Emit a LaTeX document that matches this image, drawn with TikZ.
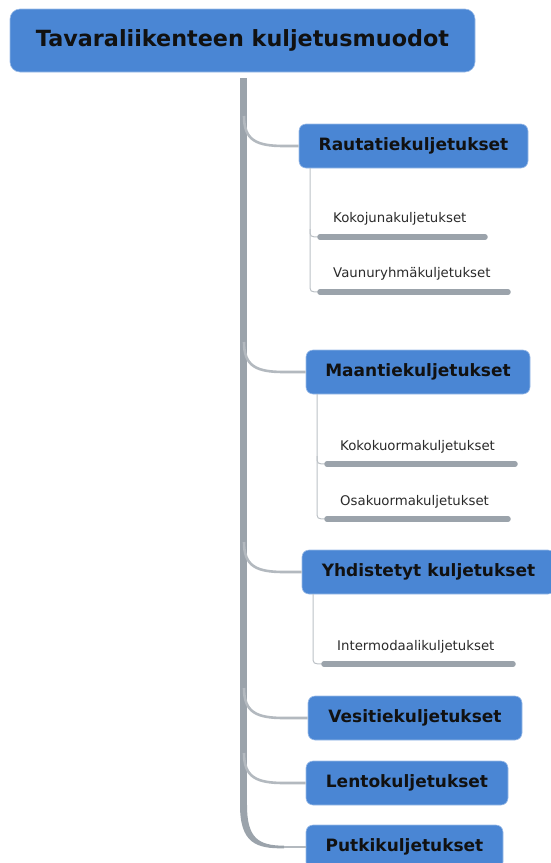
\documentclass[tikz,border=0pt]{standalone}
\usepackage{fontspec}
\setmainfont{DejaVu Sans}
\usetikzlibrary{calc}
\definecolor{boxblue}{HTML}{4A86D4}
\definecolor{trunkgray}{HTML}{9BA3AB}
\definecolor{branchgray}{HTML}{B3B9BF}
\definecolor{linegray}{HTML}{BCC1C6}
\definecolor{txtdark}{HTML}{111111}
\definecolor{leaftxt}{HTML}{2A2A2A}
\begin{document}
\begin{tikzpicture}[x=1pt,y=-1pt,
  box/.style={fill=boxblue, draw=boxblue!55!white, line width=0.6pt, rounded corners=7pt,
    inner sep=0pt, text=txtdark, font=\bfseries\fontsize{17}{20}\selectfont, minimum height=44pt},
  rootbox/.style={box, rounded corners=10pt, font=\bfseries\fontsize{22.3}{26}\selectfont, minimum height=63pt, minimum width=465pt},
  leaf/.style={anchor=west, inner sep=0pt, text=leaftxt, font=\fontsize{13.3}{16}\selectfont},
  trunk/.style={draw=trunkgray, line width=7pt},
  trunkfill/.style={fill=trunkgray, draw=none},
  branch/.style={draw=branchgray, line width=2.6pt},
  subline/.style={draw=linegray, line width=1pt},
  uline/.style={draw=trunkgray, line width=5.5pt, line cap=round}]
\useasboundingbox (0,0) rectangle (550,863);

% nodes
\node[rootbox] (root) at (242.5,40.5) {Tavaraliikenteen kuljetusmuodot};
\node[box, minimum width=229pt] (rauta) at (413.5,146) {Rautatiekuljetukset};
\node[box, minimum width=224pt] (maan) at (418,372) {Maantiekuljetukset};
\node[box, minimum width=253pt] (yhd) at (428.5,572) {Yhdistetyt kuljetukset};
\node[box, minimum width=214pt] (vesi) at (415,718) {Vesitiekuljetukset};
\node[box, minimum width=202pt] (lento) at (407,783) {Lentokuljetukset};
\node[box, minimum width=197pt] (putki) at (404.5,847) {Putkikuljetukset};

% leaves
\node[leaf] (l1) at (333,219) {Kokojunakuljetukset};
\node[leaf] (l2) at (333,274) {Vaunuryhmäkuljetukset};
\node[leaf] (l3) at (340,447) {Kokokuormakuljetukset};
\node[leaf] (l4) at (340,502) {Osakuormakuljetukset};
\node[leaf] (l5) at (337,647) {Intermodaalikuljetukset};

% trunk
\coordinate (ttop) at ($(root.south)+(1,6)$);
\coordinate (tbot) at (243.5,806);
\draw[trunk] (ttop) -- (tbot);
% tapered bottom of trunk curving into the last branch
\fill[trunkfill] (240,805) .. controls (240,843) and (256,848.8) .. (284,848.3)
  -- (284,845.7) .. controls (258,845.5) and (247,838) .. (247,805) -- cycle;

% branches from trunk
\coordinate (b1) at (244,116);
\draw[branch] (b1) .. controls (244,140) and (256,146) .. (284,146) -- (rauta.west);
\coordinate (b2) at (244,342);
\draw[branch] (b2) .. controls (244,366) and (256,372) .. (284,372) -- (maan.west);
\coordinate (b3) at (244,542);
\draw[branch] (b3) .. controls (244,566) and (256,572) .. (284,572) -- (yhd.west);
\coordinate (b4) at (244,688);
\draw[branch] (b4) .. controls (244,712) and (256,718) .. (284,718) -- (vesi.west);
\coordinate (b5) at (244,753);
\draw[branch] (b5) .. controls (244,777) and (256,783) .. (284,783) -- (lento.west);
\coordinate (b6) at (284,847);
\draw[branch] (b6) -- (putki.west);

% Rautatie sub-tree
\coordinate (r0) at (310,168);
\coordinate (u1a) at (320,237); \coordinate (u1b) at (485,237);
\coordinate (u2a) at (320,292); \coordinate (u2b) at (508,292);
\draw[subline] (r0) -- (310,284) .. controls (310,292) .. (u2a);
\draw[subline] (310,229) .. controls (310,237) .. (u1a);
\draw[uline] (u1a) -- (u1b);
\draw[uline] (u2a) -- (u2b);

% Maantie sub-tree
\coordinate (m0) at (317,394);
\coordinate (u3a) at (327,464); \coordinate (u3b) at (515,464);
\coordinate (u4a) at (327,519); \coordinate (u4b) at (508,519);
\draw[subline] (m0) -- (317,511) .. controls (317,519) .. (u4a);
\draw[subline] (317,456) .. controls (317,464) .. (u3a);
\draw[uline] (u3a) -- (u3b);
\draw[uline] (u4a) -- (u4b);

% Yhdistetyt sub-tree
\coordinate (y0) at (313,594);
\coordinate (u5a) at (324,664); \coordinate (u5b) at (513,664);
\draw[subline] (y0) -- (313,656) .. controls (313,664) .. (u5a);
\draw[uline] (u5a) -- (u5b);
\end{tikzpicture}
\end{document}
